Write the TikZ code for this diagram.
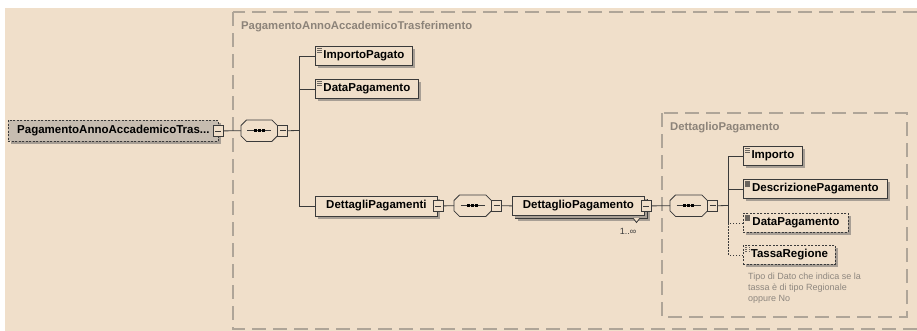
\documentclass[tikz,border=0pt]{standalone}
\usepackage{fontspec}
\setmainfont{Liberation Sans}
\usetikzlibrary{shadows}
\definecolor{bg}{HTML}{F0DFCA}
\definecolor{rootfill}{HTML}{C6BCB0}
\definecolor{shadowc}{HTML}{A89F95}
\definecolor{dashc}{HTML}{AFA598}
\definecolor{titlec}{HTML}{8C8379}
\definecolor{linec}{HTML}{3A3A3A}
\definecolor{descc}{HTML}{8E877F}
\definecolor{iconc}{HTML}{6A645E}
\tikzset{
  shad/.style={drop shadow={shadow xshift=3pt,shadow yshift=-3pt,fill=shadowc,opacity=1}},
  elem/.style={draw=linec, fill=bg, line width=0.8pt, font=\bfseries\fontsize{11.5}{13}\selectfont,
    minimum height=19pt, inner sep=0pt, anchor=north west, shad},
  optelem/.style={elem, dash pattern=on 2pt off 1.5pt},
  licon/.style={path picture={
      \draw[iconc, line width=0.6pt]
        ([xshift=2pt,yshift=-2pt]path picture bounding box.north west) -- ++(5,0)
        ([xshift=2pt,yshift=-4pt]path picture bounding box.north west) -- ++(5,0)
        ([xshift=2pt,yshift=-6pt]path picture bounding box.north west) -- ++(5,0);}},
  bicon/.style={path picture={
      \fill[iconc] ([xshift=2pt,yshift=-1.5pt]path picture bounding box.north west) rectangle ++(5,6);}},
  expander/.style={draw=linec, fill=bg, line width=0.7pt, minimum width=10pt, minimum height=11pt,
    inner sep=0pt, anchor=west, path picture={
      \draw[linec, line width=0.7pt] ([xshift=2pt]path picture bounding box.west) -- ([xshift=-2pt]path picture bounding box.east);}},
  seqnode/.style={rectangle, minimum width=37pt, minimum height=21pt, inner sep=0pt, anchor=north west},
  conn/.style={draw=linec, line width=0.8pt},
  optconn/.style={conn, dash pattern=on 1.5pt off 1.5pt},
  frame/.style={draw=dashc, line width=1.3pt, dash pattern=on 14pt off 7pt},
  ftitle/.style={font=\bfseries\fontsize{11.3}{12}\selectfont, text=titlec, anchor=west, inner sep=0pt},
}
\newcommand\octpath[1]{([xshift=5.5pt]#1.north west) -- ([xshift=-5.5pt]#1.north east) -- ([yshift=-5.5pt]#1.north east) -- ([yshift=5.5pt]#1.south east) -- ([xshift=-5.5pt]#1.south east) -- ([xshift=5.5pt]#1.south west) -- ([yshift=5.5pt]#1.south west) -- ([yshift=-5.5pt]#1.north west) -- cycle}
\newcommand\seqdeco[1]{%
  \begin{scope}[shift={(3,3)}]\fill[shadowc] \octpath{#1};\end{scope}
  \draw[linec, fill=bg, line width=0.8pt] \octpath{#1};
  \draw[linec, line width=0.8pt] ([xshift=-12pt]#1.center) -- ([xshift=12pt]#1.center);
  \foreach \dx in {-4,0,4} \fill[black] ([xshift=\dx pt]#1.center) ++(-1.6,-1.6) rectangle ++(3.2,3.2);
}
\begin{document}
\begin{tikzpicture}[x=1pt,y=-1pt]
\useasboundingbox (0,0) rectangle (917,330);
\clip (0,0) rectangle (917,330);
\fill[white] (0,0) rectangle (917,330);
\fill[bg] (5,8) rectangle (925,335);
% frames
\draw[frame] (233,12) rectangle (930,329);
\node[ftitle] (t1) at (241,27) {PagamentoAnnoAccademicoTrasferimento};
\draw[frame] (662,113) rectangle (907,317);
\node[ftitle] (t2) at (670,128) {DettaglioPagamento};

% root
\node[elem, fill=rootfill, dash pattern=on 2pt off 1.5pt, minimum width=210pt, minimum height=21pt] (root) at (8,120) {PagamentoAnnoAccademicoTras...};
\node[expander] (rootexp) at ([xshift=-6pt]root.east) {};

% sequence 1
\node[seqnode, minimum width=36pt] (seq1) at (241,120) {};
\seqdeco{seq1}
\node[expander] (seq1exp) at (seq1.east) {};
\coordinate (b1) at (299,130.5);
\draw[conn] (rootexp.east) -- (seq1.west);
\draw[conn] (seq1exp.east) -- (b1);

% children level 1
\node[elem, licon, minimum width=97pt] (ip) at (315,46) {ImportoPagato};
\node[elem, licon, minimum width=103pt] (dp) at (315,79) {DataPagamento};
\node[elem, minimum width=122pt, minimum height=20pt] (dps) at (315,195.5) {DettagliPagamenti\hspace{6pt}};
\node[expander] (dpsexp) at ([xshift=-5pt]dps.east) {};
\draw[conn] (ip.west) -| (b1);
\draw[conn] (dp.west) -| (b1);
\draw[conn] (dps.west) -| (b1);

% sequence 2
\node[seqnode] (seq2) at (454,195) {};
\seqdeco{seq2}
\node[expander] (seq2exp) at (seq2.east) {};
\draw[conn] (dpsexp.east) -- (seq2.west);

% DettaglioPagamento (multiple)
\fill[shadowc] (518,202) rectangle (650,221);
\draw[conn, fill=bg] (515,199) rectangle (647,218);
\node[elem, minimum width=132pt, drop shadow={opacity=0}] (dtp) at (512,196) {DettaglioPagamento\hspace{4pt}};
\node[expander] (dtpexp) at ([xshift=-4pt]dtp.east) {};
\draw[conn] (seq2exp.east) -- (dtp.west);
\draw[conn, fill=bg] (633,218) -- (636.5,222.5) -- (640,218);
\node[font=\fontsize{9}{10}\selectfont, text=linec, inner sep=0pt] (card) at (628,231) {1..∞};

% sequence 3
\node[seqnode] (seq3) at (670,195) {};
\seqdeco{seq3}
\node[expander] (seq3exp) at (seq3.east) {};
\draw[conn] (dtpexp.east) -- (seq3.west);
\coordinate (b3) at (728,205.5);
\draw[conn] (seq3exp.east) -- (b3);

% children level 2
\node[elem, licon, minimum width=59pt] (imp) at (743,146) {Importo};
\node[elem, bicon, minimum width=144pt] (desc) at (743,179) {DescrizionePagamento};
\node[optelem, bicon, minimum width=105pt] (dp2) at (743,213) {DataPagamento};
\node[optelem, licon, minimum width=92pt] (tr) at (743,245) {TassaRegione};
\draw[optconn] (dp2.west) -| (b3);
\draw[optconn] (tr.west) -| (b3);
\draw[conn] (imp.west) -| (b3);
\draw[conn] (desc.west) -| (b3);

\node[font=\fontsize{9}{11}\selectfont, text=descc, align=left, anchor=north west, inner sep=0pt] (note) at (748,273)
  {Tipo di Dato che indica se la\\tassa è di tipo Regionale\\oppure No};
\end{tikzpicture}
\end{document}
